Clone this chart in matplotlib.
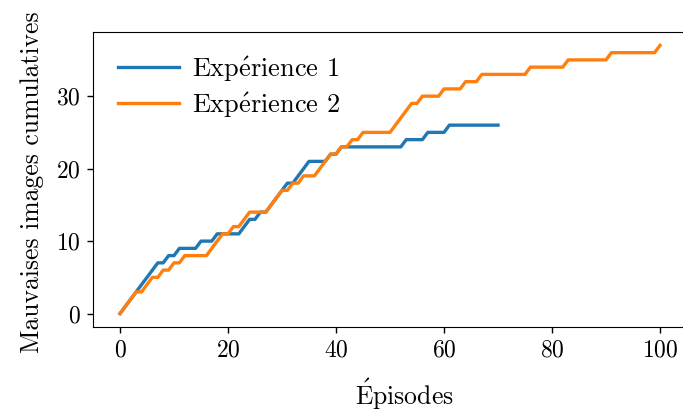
import matplotlib
matplotlib.use("Agg")
import matplotlib.pyplot as plt
import numpy as np

plt.rcParams["font.family"] = "serif"
plt.rcParams["font.serif"] = ["cmr10"]
plt.rcParams["mathtext.fontset"] = "cm"
plt.rcParams["axes.formatter.use_mathtext"] = True

# Cumulative count of bad images per episode
exp1_values = [0, 1, 2, 3, 4, 5, 6, 7, 7, 8, 8, 9, 9, 9, 9, 10, 10, 10, 11, 11,
               11, 11, 11, 12, 13, 13, 14, 14, 15, 16, 17, 18, 18, 19, 20, 21, 21, 21, 21, 22,
               22, 23, 23, 23, 23, 23, 23, 23, 23, 23, 23, 23, 23, 24, 24, 24, 24, 25, 25, 25,
               25, 26, 26, 26, 26, 26, 26, 26, 26, 26, 26]
exp2_values = [0, 1, 2, 3, 3, 4, 5, 5, 6, 6, 7, 7, 8, 8, 8, 8, 8, 9, 10, 11,
               11, 12, 12, 13, 14, 14, 14, 14, 15, 16, 17, 17, 18, 18, 19, 19, 19, 20, 21, 22,
               22, 23, 23, 24, 24, 25, 25, 25, 25, 25, 25, 26, 27, 28, 29, 29, 30, 30, 30, 30,
               31, 31, 31, 31, 32, 32, 32, 33, 33, 33, 33, 33, 33, 33, 33, 33, 34, 34, 34, 34,
               34, 34, 34, 35, 35, 35, 35, 35, 35, 35, 35, 36, 36, 36, 36, 36, 36, 36, 36, 36,
               37]
series_labels = [r"Exp$\mathrm{\acute{e}}$rience 1", r"Exp$\mathrm{\acute{e}}$rience 2"]
x_label = r"$\mathrm{\acute{E}}$pisodes"
y_label = "Mauvaises images cumulatives"

fig = plt.figure(figsize=(6.83, 4.13), dpi=100)
ax = fig.add_axes([93 / 683, 1 - 327 / 413, 594 / 683, 295 / 413])

ax.plot(np.arange(len(exp1_values)), exp1_values, color="#1f77b4", lw=2.4,
        label=series_labels[0])
ax.plot(np.arange(len(exp2_values)), exp2_values, color="#ff7f0e", lw=2.4,
        label=series_labels[1])

ax.set_xlabel(x_label, fontsize=18.5)
ax.set_ylabel(y_label, fontsize=18.5)
ax.tick_params(labelsize=17, length=4.5, width=1.0, pad=4.5)
ax.set_xticks([0, 20, 40, 60, 80, 100])
ax.set_yticks([0, 10, 20, 30])
ax.xaxis.set_label_coords(0.525, -0.17)
ax.yaxis.set_label_coords(-0.083, 0.49)
ax.legend(loc="upper left", frameon=False, fontsize=19, handlelength=2.3,
          handletextpad=0.5, labelspacing=0.25, borderaxespad=0,
          bbox_to_anchor=(0.025, 0.96))

fig.savefig("out.png", dpi=100)
